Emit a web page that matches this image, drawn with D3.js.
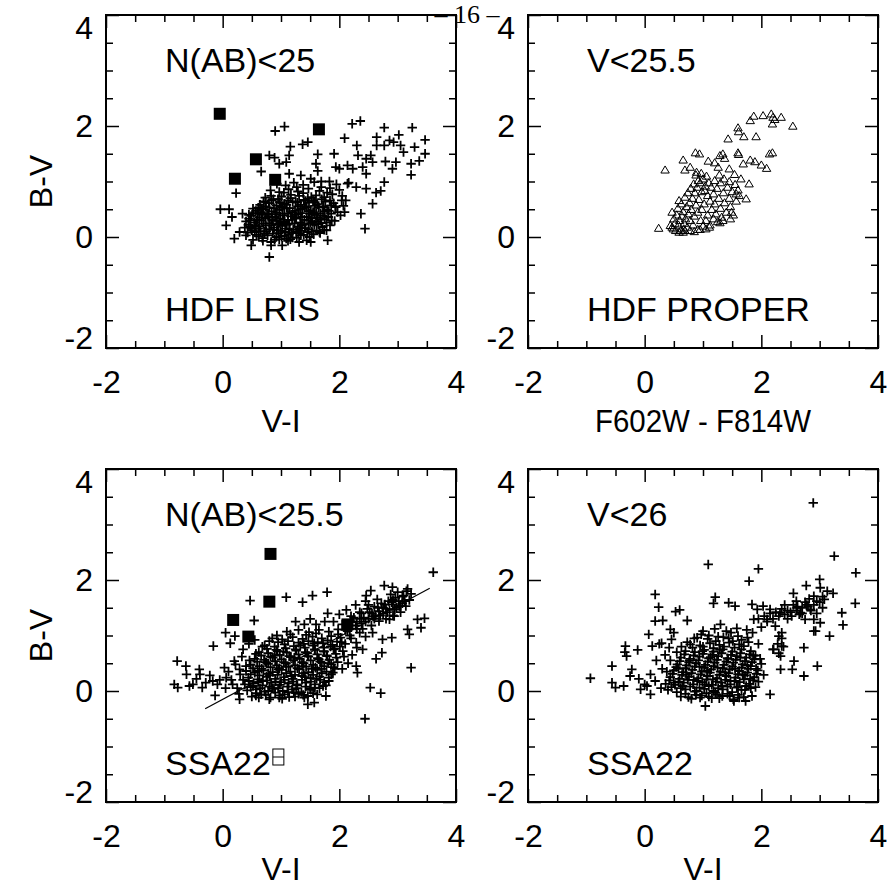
<!DOCTYPE html>
<html>
<head>
<meta charset="utf-8">
<script src="https://cdn.jsdelivr.net/npm/d3@7"></script>
<style>
  body { margin: 0; background: #fff; }
  svg { display: block; }
</style>
</head>
<body>
<div id="chart"></div>
<script>
/*------------------ Données ------------------*/

var majorTicks = [-2, 0, 2, 4];
var minorTicks = [-1.5, -1, -0.5, 0.5, 1, 1.5, 2.5, 3, 3.5];

// HDF LRIS, N(AB)<25 : croix + carrés pleins
var lrisCrosses = [
  [0.90,1.91],[1.06,1.99],[2.22,2.04],[2.36,2.09],[2.77,1.97],[3.25,1.97],[3.47,1.75],[3.47,1.50],
  [3.02,1.84],[3.05,1.65],[3.29,1.62],[3.10,1.53],[2.93,1.71],[2.64,1.80],[2.64,1.65],[2.86,1.74],
  [2.77,1.65],[3.37,1.37],[3.23,1.32],[3.23,1.12],[2.97,1.35],[2.91,1.23],[2.79,1.36],[2.09,1.78],
  [2.30,1.65],[2.32,1.47],[2.46,1.41],[2.54,1.47],[2.57,1.35],[1.37,1.67],[1.46,1.71],[1.16,1.63],
  [1.14,1.47],[1.09,1.35],[0.80,1.47],[0.89,1.43],[1.63,1.49],[1.91,1.50],[1.60,1.32],[1.63,1.19],
  [0.97,1.32],[0.66,1.18],[1.14,1.14],[1.34,1.11],[1.51,1.05],[1.69,1.00],[1.83,1.00],[1.94,1.26],
  [2.00,1.23],[2.14,1.29],[2.23,1.23],[2.40,1.26],[2.46,1.14],[2.14,0.96],[2.29,0.90],[2.46,0.87],
  [2.77,0.99],[2.71,0.83],[2.63,0.80],[2.57,0.60],[2.37,0.42],[2.44,0.15],[2.11,0.66],[2.09,0.45],
  [1.94,0.54],[0.23,0.79],[-0.04,0.50],[0.11,0.50],[0.06,0.21],[0.16,0.36],[0.20,-0.03],[0.34,0.42],
  [0.49,-0.15],[0.80,-0.36],[0.83,-0.15],[1.02,-0.15],[1.09,-0.03],[1.31,-0.09],[1.51,-0.09],[1.80,-0.06],
  [1.66,0.09],[0.29,0.09],[0.40,0.03],[0.49,0.15],[0.57,0.21],
  [0.52,-0.05],[0.68,-0.02],[0.83,-0.09],[0.97,-0.04],[1.12,-0.07],[1.27,-0.01],[1.44,-0.06],
  [0.43,0.08],[0.58,0.04],[0.71,0.10],[0.86,0.06],[0.99,0.11],[1.13,0.05],[1.26,0.09],[1.39,0.04],
  [1.53,0.10],[1.67,0.07],[0.47,0.18],[0.61,0.15],[0.74,0.21],[0.88,0.17],[1.02,0.20],[1.15,0.14],
  [1.29,0.19],[1.42,0.16],[1.57,0.22],[1.71,0.18],[1.84,0.21],[0.40,0.28],[0.54,0.26],[0.67,0.30],
  [0.80,0.25],[0.93,0.29],[1.06,0.27],[1.19,0.31],[1.33,0.26],[1.47,0.30],[1.60,0.28],[1.75,0.32],
  [1.92,0.29],[0.49,0.38],[0.63,0.35],[0.76,0.40],[0.90,0.36],[1.03,0.39],[1.17,0.37],[1.30,0.41],
  [1.44,0.36],[1.58,0.40],[1.72,0.38],[1.86,0.42],[2.02,0.39],[0.57,0.47],[0.70,0.50],[0.84,0.46],
  [0.97,0.49],[1.10,0.52],[1.24,0.47],[1.37,0.51],[1.51,0.48],[1.65,0.53],[1.79,0.49],[1.93,0.55],
  [0.64,0.58],[0.79,0.61],[0.92,0.57],[1.06,0.60],[1.20,0.63],[1.34,0.58],[1.48,0.62],[1.62,0.59],
  [1.76,0.64],[1.90,0.61],[2.04,0.66],[0.73,0.71],[0.87,0.68],[1.01,0.73],[1.16,0.70],[1.31,0.74],
  [1.46,0.69],[1.60,0.75],[1.74,0.72],[1.88,0.77],[2.05,0.74],[0.82,0.84],[0.97,0.81],[1.13,0.86],
  [1.29,0.82],[1.47,0.87],[1.66,0.83],[1.84,0.88],[2.00,0.85],[0.93,0.96],[1.08,0.93],[1.22,0.98],
  [1.38,0.94],[1.57,0.99],[1.95,0.95],[2.16,0.98],[0.75,0.10],[0.95,0.22],[1.08,0.15],[1.25,0.33],
  [1.40,0.23],[0.85,0.32],[1.12,0.42],[1.33,0.50],[0.68,0.41],[1.55,0.45],[1.00,0.55],[0.80,0.53],
  [1.42,0.65],[1.68,0.42],[0.58,0.30],
  [0.62,0.01],[0.77,0.03],[0.92,0.00],[1.06,0.02],[1.20,-0.01],[1.34,0.03],[1.49,0.00],
  [0.50,0.12],[0.65,0.10],[0.80,0.14],[0.93,0.12],[1.07,0.09],[1.21,0.13],[1.34,0.11],[1.47,0.14],
  [1.61,0.12],[0.44,0.22],[0.56,0.20],[0.70,0.24],[0.83,0.21],[0.97,0.25],[1.10,0.22],[1.23,0.24],
  [1.36,0.21],[1.50,0.25],[1.64,0.23],[1.78,0.26],[0.45,0.33],[0.60,0.31],[0.73,0.34],[0.86,0.30],
  [0.99,0.33],[1.12,0.31],[1.26,0.35],[1.40,0.31],[1.53,0.34],[1.67,0.32],[1.81,0.36],[0.53,0.43],
  [0.66,0.45],[0.79,0.42],[0.93,0.44],[1.06,0.42],[1.20,0.45],[1.34,0.43],[1.47,0.46],[1.61,0.43],
  [1.75,0.46],[0.61,0.53],[0.74,0.55],[0.88,0.52],[1.02,0.54],[1.15,0.52],[1.29,0.55],[1.44,0.53],
  [1.58,0.56],[1.72,0.54],[1.86,0.57],[0.70,0.64],[0.84,0.66],[0.98,0.63],[1.12,0.66],[1.25,0.64],
  [1.39,0.67],[1.55,0.65],[1.70,0.68],[1.84,0.66],
  [0.55,0.09],[0.63,0.19],[0.72,0.06],[0.78,0.36],[0.87,0.13],[0.91,0.41],[0.96,0.07],[1.04,0.31],
  [1.09,0.58],[1.14,0.24],[1.18,0.08],[1.23,0.40],[1.28,0.62],[1.32,0.16],[1.36,0.36],[1.41,0.55],
  [1.45,0.09],[1.49,0.42],[1.54,0.27],[1.58,0.63],[1.63,0.35],[1.69,0.25],[1.73,0.55],[1.78,0.12],
  [1.82,0.47],[1.87,0.30],[1.97,0.45],[2.07,0.56],[0.66,0.52],[0.74,0.63],[0.83,0.74],[0.95,0.68],
  [1.05,0.80],[1.17,0.76],[1.27,0.90],[1.38,0.79],[1.52,0.72],[1.69,0.90],[1.79,0.80],[0.48,0.30],
  [0.52,0.51],[0.60,0.42],[0.69,-0.07],[0.89,-0.05],[1.01,0.01],[1.16,-0.04],[1.30,0.07],[1.56,0.05],
  [1.74,0.13],[0.38,0.17],[0.45,0.40]
];
var lrisSquares = [[-0.05,2.22],[1.65,1.94],[0.57,1.40],[0.21,1.05],[0.90,1.03]];

// HDF PROPER, V<25.5 : triangles ouverts
var properTriangles = [
  [0.24,0.16],[0.35,1.21],[0.66,1.39],[0.69,1.21],[0.87,1.52],[0.94,1.50],[1.09,1.37],[0.78,1.26],
  [1.43,1.77],[1.60,1.97],[1.61,1.90],[1.70,1.81],[1.91,1.81],[1.81,2.10],[1.87,2.18],[2.03,2.19],
  [2.17,2.22],[2.20,2.16],[2.19,2.04],[2.23,2.12],[2.34,2.16],[2.54,2.00],[1.34,1.50],[1.37,1.42],
  [1.60,1.52],[1.61,1.49],[1.69,1.32],[1.81,1.39],[1.89,1.36],[2.00,1.30],[2.09,1.24],[2.14,1.50],
  [2.19,1.52],[1.79,0.96],[1.74,0.69],[1.57,0.78],[1.54,1.13],[1.45,1.23],[1.20,1.34],[1.29,1.47],
  [1.26,1.26],[0.89,1.17],[0.59,0.66],[0.47,0.45],[0.44,0.21],[0.49,0.15],[0.66,0.09],[0.69,0.12],
  [0.91,0.14],[1.11,0.18],[1.29,0.26],[1.34,0.30],[1.47,0.33],[1.49,0.45],
  [0.47,0.18],[0.52,0.25],[0.50,0.33],[0.55,0.40],[0.58,0.22],[0.60,0.30],[0.62,0.12],[0.64,0.38],
  [0.66,0.46],[0.68,0.25],[0.70,0.33],[0.72,0.55],[0.73,0.18],[0.75,0.42],[0.77,0.62],[0.78,0.30],
  [0.80,0.50],[0.82,0.70],[0.83,0.22],[0.85,0.38],[0.86,0.80],[0.88,0.58],[0.90,0.90],[0.91,0.45],
  [0.93,0.68],[0.95,0.98],[0.96,0.30],[0.98,0.82],[1.00,1.05],[1.02,0.60],[1.04,0.92],[1.06,1.10],
  [1.08,0.75],[1.10,0.98],[0.57,0.52],[0.63,0.60],[0.69,0.72],[0.74,0.80],[0.79,0.88],[0.84,0.96],
  [0.92,1.02],[0.88,1.12],[0.97,1.15],[1.03,0.84],[0.67,0.15],[0.53,0.12],[0.59,0.09],
  [1.00,0.20],[1.05,0.30],[1.08,0.40],[1.12,0.22],[1.15,0.50],[1.18,0.33],[1.20,0.60],[1.22,0.42],
  [1.25,0.28],[1.27,0.70],[1.30,0.52],[1.32,0.36],[1.35,0.80],[1.37,0.62],[1.40,0.45],[1.42,0.90],
  [1.45,0.70],[1.47,0.55],[1.50,0.82],[1.52,0.40],[1.55,0.95],[1.57,0.65],[1.60,0.85],[1.62,0.75],
  [1.12,0.65],[1.18,0.78],[1.24,0.88],[1.30,0.98],[1.36,1.05],[1.28,1.12],[1.20,1.02],[1.14,0.90],
  [1.45,1.00],[1.65,1.05],[0.98,0.50],[1.05,0.15],[0.95,0.14],[0.85,0.10],[0.78,0.12]
];

// SSA22, N(AB)<25.5 : croix + carrés pleins + droite
var ssaNCrosses = [
  [3.61,2.14],[2.77,1.90],[2.91,1.87],[3.17,1.84],[3.23,1.75],[2.54,1.81],[2.46,1.72],[0.47,1.63],
  [1.09,1.69],[1.37,1.60],[1.54,1.72],[1.79,1.78],[0.54,1.27],[0.05,1.05],[0.21,0.99],[0.13,0.86],
  [-0.16,0.81],[-0.78,0.54],[-0.63,0.45],[-0.40,0.39],[-0.39,0.30],[-0.62,0.30],[-0.83,0.12],[-0.77,0.06],
  [-0.57,0.09],[-0.51,0.12],[-0.29,0.15],[-0.17,0.18],[-0.09,0.12],[-0.13,-0.08],[0.29,-0.15],[0.57,-0.08],
  [0.80,-0.15],[0.97,-0.12],[1.46,-0.24],[1.57,-0.21],[1.77,-0.09],[2.53,0.06],[2.71,-0.04],[2.44,-0.50],
  [3.23,0.42],[3.40,1.14],[3.46,1.31],[3.34,1.29],[3.17,1.11],[3.20,1.02],[2.74,0.93],[2.90,0.96],
  [2.73,0.69],[2.63,0.58],[2.31,0.33],[2.29,0.45],[2.40,0.75],[2.29,0.87],[2.57,1.05],[3.03,1.53],
  [3.14,1.53],[2.94,1.35],[2.86,1.29],[0.29,0.39],[0.06,0.24],[0.17,0.12],[0.03,0.42],[0.20,0.54],
  [0.50,-0.10],[0.66,-0.06],[0.82,-0.12],[0.98,-0.08],[1.14,-0.11],[1.30,-0.05],[1.46,-0.09],
  [0.42,0.01],[0.57,0.03],[0.72,-0.01],[0.88,0.04],[1.03,0.00],[1.19,0.03],[1.35,-0.02],[1.51,0.02],
  [1.66,0.05],[0.38,0.12],[0.53,0.14],[0.68,0.10],[0.83,0.15],[0.98,0.11],[1.13,0.14],[1.28,0.10],
  [1.43,0.15],[1.58,0.12],[1.74,0.16],[0.44,0.24],[0.60,0.21],[0.75,0.26],[0.90,0.22],[1.05,0.25],
  [1.20,0.22],[1.36,0.27],[1.51,0.23],[1.66,0.26],[1.82,0.24],[0.40,0.36],[0.55,0.33],[0.70,0.37],
  [0.86,0.34],[1.01,0.38],[1.16,0.35],[1.31,0.39],[1.47,0.34],[1.62,0.38],[1.78,0.35],[1.92,0.40],
  [0.48,0.47],[0.63,0.45],[0.78,0.49],[0.93,0.46],[1.08,0.50],[1.24,0.46],[1.39,0.50],[1.55,0.47],
  [1.70,0.51],[1.86,0.48],[0.55,0.58],[0.71,0.56],[0.86,0.60],[1.01,0.57],[1.17,0.61],[1.32,0.58],
  [1.47,0.62],[1.63,0.59],[1.79,0.63],[1.95,0.60],[0.62,0.70],[0.78,0.68],[0.94,0.72],[1.10,0.69],
  [1.26,0.73],[1.42,0.70],[1.58,0.74],[1.74,0.71],[1.90,0.75],[2.06,0.72],[0.72,0.82],[0.89,0.80],
  [1.06,0.84],[1.22,0.81],[1.39,0.85],[1.55,0.82],[1.72,0.86],[1.88,0.83],[2.04,0.88],[0.85,0.95],
  [1.02,0.93],[1.20,0.97],[1.37,0.94],[1.54,0.98],[1.70,0.95],[1.86,0.99],[2.02,0.96],[2.18,1.00],
  [1.10,1.07],[1.30,1.10],[1.48,1.06],[1.65,1.10],[1.82,1.07],[1.98,1.11],[2.14,1.08],[2.30,1.12],
  [2.05,1.20],[2.22,1.24],[2.38,1.22],[2.50,1.30],[2.62,1.36],[2.75,1.40],[2.86,1.46],[2.98,1.50],
  [3.08,1.58],[3.20,1.64],[2.20,1.35],[2.35,1.42],[2.48,1.48],[2.60,1.52],[2.72,1.58],[2.84,1.62],
  [2.96,1.68],[3.10,1.72],[2.40,1.12],[2.55,1.18],[2.68,1.26],[2.80,1.30],[2.92,1.36],[3.05,1.42],
  [1.90,1.25],[2.00,1.38],[2.12,1.46],[2.28,1.55],[2.45,1.62],[3.15,1.80],[3.00,1.78],[2.88,1.74],
  [1.75,1.25],[1.60,1.20],[1.50,1.30],[1.40,1.20],[1.25,1.25],[1.80,1.40],
  [2.10,0.85],[2.22,0.65],[2.15,0.50],[2.30,0.78],[2.05,0.40],[2.20,0.95],[2.45,0.98],[2.35,1.05],
  [0.25,0.05],[0.15,0.20],[0.30,0.30],[0.10,0.35],[0.22,0.48],[0.33,0.62],[0.28,-0.05],[0.05,0.05],
  [-0.05,0.20],[-0.22,0.28],[-0.35,0.06],[-0.45,0.22],[0.35,0.75],[0.45,0.85],[0.55,0.92],
  [0.58,-0.04],[0.74,-0.07],[0.90,-0.03],[1.06,-0.06],[1.22,-0.03],[1.38,-0.07],[1.55,-0.04],
  [0.48,0.07],[0.64,0.05],[0.80,0.08],[0.95,0.05],[1.11,0.08],[1.26,0.05],[1.42,0.08],[1.58,0.06],
  [1.72,0.09],[0.45,0.18],[0.61,0.16],[0.76,0.19],[0.91,0.17],[1.06,0.20],[1.21,0.17],[1.36,0.20],
  [1.51,0.17],[1.67,0.20],[1.82,0.18],[0.48,0.30],[0.63,0.28],[0.78,0.31],[0.94,0.29],[1.09,0.32],
  [1.24,0.29],[1.39,0.32],[1.55,0.29],[1.70,0.32],[1.86,0.30],[0.52,0.41],[0.67,0.40],[0.82,0.43],
  [0.97,0.41],[1.13,0.44],[1.28,0.41],[1.43,0.44],[1.59,0.42],[1.74,0.45],[1.90,0.43],[0.59,0.53],
  [0.75,0.51],[0.90,0.54],[1.05,0.52],[1.21,0.55],[1.36,0.52],[1.51,0.55],[1.67,0.53],[1.83,0.56],
  [0.66,0.64],[0.82,0.62],[0.98,0.65],[1.14,0.63],[1.30,0.66],[1.46,0.63],[1.62,0.66],[1.78,0.64],
  [1.94,0.67],[0.76,0.76],[0.92,0.74],[1.08,0.77],[1.25,0.75],[1.41,0.78],[1.58,0.75],[1.74,0.78],
  [1.92,0.76],[0.95,0.88],[1.12,0.90],[1.30,0.87],[1.47,0.90],[1.63,0.88],[1.80,0.91],[1.96,0.89],
  [2.15,1.18],[2.30,1.25],[2.42,1.32],[2.56,1.40],[2.68,1.44],[2.80,1.48],[2.92,1.56],[3.02,1.62],
  [2.60,1.30],[2.75,1.50],[2.90,1.60],[2.50,1.55],[2.65,1.65],[3.08,1.70],[2.38,1.40],[2.25,1.32],
  [1.98,1.02],[2.10,1.10],
  [0.52,0.09],[0.60,0.36],[0.69,0.18],[0.73,0.52],[0.81,0.28],[0.85,0.05],[0.89,0.64],[0.96,0.39],
  [1.00,0.16],[1.04,0.71],[1.09,0.44],[1.12,-0.02],[1.18,0.27],[1.23,0.60],[1.27,0.12],[1.33,0.82],
  [1.37,0.45],[1.41,0.25],[1.45,0.68],[1.50,0.05],[1.53,0.40],[1.57,0.86],[1.61,0.22],[1.65,0.57],
  [1.69,0.40],[1.73,0.72],[1.77,0.10],[1.81,0.50],[1.85,0.80],[1.89,0.33],[1.97,0.52],[2.01,0.80],
  [2.08,0.62],[0.46,0.55],[0.57,0.67],[0.68,0.80],[0.80,0.90],[0.93,1.00],[1.16,1.02],[1.43,1.01],
  [1.60,1.04],[0.62,-0.12],[0.78,0.00],[1.02,-0.14],[1.24,-0.10],[1.40,-0.12],[1.62,-0.06],[0.35,0.20],
  [0.40,0.45],[2.28,1.18],[2.45,1.25],[2.58,1.34],[2.70,1.36],[2.82,1.42],[2.95,1.47],[3.05,1.53],
  [2.35,1.30],[2.52,1.42],[2.66,1.50],[2.78,1.56],[2.92,1.64],[3.12,1.62]
];
var ssaNSquares = [[0.82,2.47],[0.80,1.61],[0.18,1.28],[0.44,0.98],[2.14,1.20]];
var ssaNFit = [[-0.30,-0.32],[3.55,1.85]];

// SSA22, V<26 : croix
var ssaVCrosses = [
  [2.89,3.39],[3.25,2.43],[3.62,2.13],[3.61,1.58],[1.09,2.28],[1.95,2.20],[1.79,1.98],[2.77,1.90],
  [3.00,2.01],[3.01,1.86],[3.13,1.80],[3.23,1.76],[2.90,1.71],[2.55,1.76],[3.38,1.41],[3.40,1.19],
  [3.17,0.99],[2.93,1.08],[2.73,0.78],[2.96,0.45],[2.73,0.27],[2.15,-0.06],[0.18,1.74],[0.24,1.51],
  [0.18,1.26],[0.31,1.27],[0.53,1.43],[0.60,1.46],[0.73,1.27],[1.21,1.69],[1.18,1.58],[1.44,1.59],
  [1.55,1.53],[0.07,1.02],[0.13,0.81],[0.29,0.86],[-0.12,0.74],[-0.33,0.81],[-0.34,0.70],[-0.31,0.63],
  [-0.93,0.23],[-0.56,0.45],[-0.56,0.15],[-0.50,0.06],[-0.36,0.09],[-0.25,0.27],[-0.22,0.39],[-0.07,0.03],
  [0.10,-0.06],[0.04,0.09],[0.46,0.93],[0.44,1.11],[0.50,1.05],[1.04,-0.27],[1.53,-0.18],[1.73,-0.18],
  [1.84,-0.09],[2.33,0.39],[2.53,0.39],[2.56,0.54],[2.33,0.63],[2.21,0.75],[2.35,0.81],[2.30,0.99],
  [2.35,1.05],[2.24,1.17],[2.10,1.29],[1.87,1.29],[1.93,1.47],[1.84,1.56],[2.03,1.53],[2.15,1.47],
  [2.32,1.41],[2.61,1.50],[2.67,1.41],[2.84,1.47],[2.75,1.29],[2.90,1.29],[3.01,1.23],[2.90,1.08],
  [0.62,-0.10],[0.80,-0.14],[0.98,-0.08],[1.15,-0.13],[1.33,-0.09],[1.52,-0.15],[1.70,-0.11],
  [0.40,0.02],[0.55,-0.02],[0.70,0.03],[0.86,-0.01],[1.02,0.04],[1.18,0.00],[1.34,0.03],[1.50,-0.02],
  [1.66,0.02],[1.82,0.05],[0.36,0.13],[0.52,0.11],[0.67,0.15],[0.83,0.12],[0.99,0.16],[1.15,0.11],
  [1.31,0.15],[1.47,0.12],[1.63,0.16],[1.79,0.13],[1.95,0.17],[0.44,0.25],[0.60,0.22],[0.76,0.26],
  [0.92,0.23],[1.08,0.27],[1.24,0.23],[1.40,0.27],[1.56,0.24],[1.72,0.28],[1.88,0.25],[2.04,0.29],
  [0.50,0.37],[0.66,0.34],[0.82,0.38],[0.98,0.35],[1.14,0.39],[1.30,0.35],[1.46,0.39],[1.62,0.36],
  [1.78,0.40],[1.94,0.37],[0.56,0.48],[0.72,0.46],[0.88,0.50],[1.04,0.47],[1.20,0.51],[1.36,0.47],
  [1.52,0.51],[1.68,0.48],[1.84,0.52],[2.00,0.49],[0.62,0.60],[0.78,0.58],[0.94,0.62],[1.10,0.59],
  [1.26,0.63],[1.42,0.59],[1.58,0.63],[1.74,0.60],[1.90,0.64],[0.70,0.72],[0.86,0.70],[1.02,0.74],
  [1.18,0.71],[1.34,0.75],[1.50,0.71],[1.66,0.75],[1.82,0.72],[0.78,0.84],[0.95,0.82],[1.12,0.86],
  [1.28,0.83],[1.45,0.87],[1.62,0.84],[1.78,0.88],[1.95,0.85],[0.90,0.96],[1.08,0.94],[1.26,0.98],
  [1.44,0.95],[1.60,0.99],[1.76,0.96],[1.00,1.08],[1.20,1.12],[1.40,1.08],[1.58,1.13],[1.75,1.10],
  [1.30,1.20],[1.85,1.05],[2.00,1.15],[2.10,1.25],[2.20,1.30],[2.30,1.35],[2.40,1.38],[2.50,1.42],
  [2.60,1.45],[2.70,1.50],[2.80,1.52],[2.90,1.55],[3.00,1.60],[3.08,1.65],[2.45,1.30],[2.65,1.38],
  [2.85,1.45],[2.95,1.40],[3.05,1.50],[2.75,1.60],[2.55,1.55],[1.95,1.30],[2.15,1.40],[2.35,1.48],
  [2.20,0.75],[2.28,0.85],[2.35,0.95],[2.38,0.80],[2.30,0.68],
  [0.28,0.05],[0.18,0.18],[0.30,0.40],[0.20,0.55],[0.10,0.30],[0.00,0.12],[-0.10,0.22],[0.35,0.65],
  [0.42,0.78],[0.25,0.85],
  [0.70,-0.05],[0.88,-0.07],[1.06,-0.04],[1.24,-0.06],[1.42,-0.05],[1.60,-0.07],
  [0.46,0.07],[0.62,0.05],[0.78,0.08],[0.94,0.06],[1.10,0.09],[1.26,0.05],[1.42,0.08],[1.58,0.06],
  [1.74,0.09],[1.90,0.07],[0.42,0.19],[0.58,0.17],[0.74,0.20],[0.90,0.18],[1.06,0.21],[1.22,0.17],
  [1.38,0.20],[1.54,0.18],[1.70,0.21],[1.86,0.19],[0.48,0.31],[0.64,0.29],[0.80,0.32],[0.96,0.30],
  [1.12,0.33],[1.28,0.29],[1.44,0.32],[1.60,0.30],[1.76,0.33],[1.92,0.31],[0.54,0.43],[0.70,0.41],
  [0.86,0.44],[1.02,0.42],[1.18,0.45],[1.34,0.41],[1.50,0.44],[1.66,0.42],[1.82,0.45],[0.60,0.54],
  [0.76,0.52],[0.92,0.55],[1.08,0.53],[1.24,0.56],[1.40,0.53],[1.56,0.56],[1.72,0.54],[1.88,0.57],
  [0.68,0.66],[0.84,0.64],[1.00,0.67],[1.16,0.65],[1.32,0.68],[1.48,0.65],[1.64,0.68],[1.80,0.66],
  [0.82,0.78],[1.00,0.80],[1.18,0.77],[1.36,0.80],[1.54,0.78],[1.70,0.81],
  [2.05,1.35],[2.25,1.42],[2.45,1.45],[2.62,1.52],[2.78,1.55],[2.95,1.62],[2.40,1.55],[2.60,1.62],
  [2.82,1.66],[3.05,1.70],[2.70,1.40],[2.52,1.35],
  [0.50,0.15],[0.58,0.40],[0.65,0.09],[0.71,0.30],[0.77,0.55],[0.84,0.20],[0.89,0.00],[0.94,0.44],
  [0.99,0.72],[1.03,0.12],[1.07,0.36],[1.13,0.61],[1.17,0.21],[1.21,-0.03],[1.25,0.42],[1.29,0.74],
  [1.33,0.09],[1.38,0.33],[1.43,0.58],[1.47,0.18],[1.51,0.90],[1.55,0.40],[1.60,0.08],[1.64,0.60],
  [1.68,0.30],[1.72,0.02],[1.76,0.46],[1.81,0.22],[1.86,0.64],[1.91,0.40],[1.98,0.58],[0.55,0.70],
  [0.63,0.80],[0.73,0.88],[0.85,0.95],[0.97,1.02],[1.10,1.00],[1.22,0.90],[1.35,0.97],[1.48,1.05],
  [1.66,0.92],[0.75,-0.11],[0.95,-0.12],[1.10,-0.10],[1.28,-0.13],[1.46,-0.09],[1.62,-0.12],[0.38,0.35],
  [0.44,0.55]
];

/*------------------ Mise en page ------------------*/

var fontSans = "'Liberation Sans', Arial, Helvetica, sans-serif";
var panelWidth = 350;
var colLeft = [106, 528];
var rowBox = [[15, 348], [469, 802]];

var svg = d3.select("#chart").append("svg")
    .attr("width", 891)
    .attr("height", 888);

svg.append("rect").attr("width", 891).attr("height", 888).attr("fill", "#fff");

// numéro de page en haut
svg.append("text")
    .attr("x", 467)
    .attr("y", 23)
    .attr("text-anchor", "middle")
    .style("font-family", "'Liberation Serif', 'DejaVu Serif', serif")
    .style("font-size", "26px")
    .text("– 16 –");

var crossPath = "M-4.7,0H4.7M0,-4.7V4.7";
var trianglePath = "M-4.2,3.2L4.2,3.2L0,-3.9Z";

function drawPanel(p) {
    var left = colLeft[p.col], top = rowBox[p.row][0], bottom = rowBox[p.row][1];
    var x = d3.scaleLinear().domain([-2, 4]).range([left, left + panelWidth]);
    var y = d3.scaleLinear().domain([-2, 4]).range([bottom, top]);
    var g = svg.append("g");

    // axes : graduations majeures et mineures sur les 4 côtés
    function styleAxis(sel) {
        sel.select(".domain").remove();
        sel.attr("font-family", fontSans).attr("font-size", 32);
        sel.selectAll("line").attr("stroke-width", 1.5);
    }
    g.append("g").attr("transform", "translate(0," + bottom + ")")
        .call(d3.axisBottom(x).tickValues(majorTicks).tickSizeInner(-13).tickSizeOuter(0)
            .tickPadding(22).tickFormat(d => String(d)))
        .call(styleAxis);
    g.append("g").attr("transform", "translate(0," + bottom + ")")
        .call(d3.axisBottom(x).tickValues(minorTicks).tickSizeInner(-7).tickSizeOuter(0).tickFormat(""))
        .call(styleAxis);
    g.append("g").attr("transform", "translate(0," + top + ")")
        .call(d3.axisTop(x).tickValues(majorTicks).tickSizeInner(-13).tickSizeOuter(0).tickFormat(""))
        .call(styleAxis);
    g.append("g").attr("transform", "translate(0," + top + ")")
        .call(d3.axisTop(x).tickValues(minorTicks).tickSizeInner(-7).tickSizeOuter(0).tickFormat(""))
        .call(styleAxis);
    var yAxis = g.append("g").attr("transform", "translate(" + left + ",0)")
        .call(d3.axisLeft(y).tickValues(majorTicks).tickSizeInner(-13).tickSizeOuter(0)
            .tickPadding(13).tickFormat(d => String(d)))
        .call(styleAxis);
    // les étiquettes extrêmes restent à l'intérieur du cadre
    yAxis.selectAll("text").attr("dy", d => d === 4 ? "0.72em" : (d === -2 ? "0em" : "0.32em"));
    g.append("g").attr("transform", "translate(" + left + ",0)")
        .call(d3.axisLeft(y).tickValues(minorTicks).tickSizeInner(-7).tickSizeOuter(0).tickFormat(""))
        .call(styleAxis);
    g.append("g").attr("transform", "translate(" + (left + panelWidth) + ",0)")
        .call(d3.axisRight(y).tickValues(majorTicks).tickSizeInner(-13).tickSizeOuter(0).tickFormat(""))
        .call(styleAxis);
    g.append("g").attr("transform", "translate(" + (left + panelWidth) + ",0)")
        .call(d3.axisRight(y).tickValues(minorTicks).tickSizeInner(-7).tickSizeOuter(0).tickFormat(""))
        .call(styleAxis);

    // cadre
    g.append("rect")
        .attr("x", left).attr("y", top)
        .attr("width", panelWidth).attr("height", bottom - top)
        .attr("fill", "none").attr("stroke", "#000").attr("stroke-width", 2);

    // titres d'axes (la ligne du bas reste dans la page)
    var xt = g.append("text")
        .attr("x", left + panelWidth / 2)
        .attr("y", Math.min(bottom + 84, 880))
        .attr("text-anchor", "middle")
        .style("font-family", fontSans).style("font-size", "32px")
        .text(p.xTitle);
    if (p.xTitleWidth) {
        xt.attr("textLength", p.xTitleWidth).attr("lengthAdjust", "spacingAndGlyphs");
    }
    if (p.col === 0) {
        g.append("text")
            .attr("transform", "translate(52," + ((top + bottom) / 2) + ") rotate(-90)")
            .attr("text-anchor", "middle")
            .style("font-family", fontSans).style("font-size", "32px")
            .text("B-V");
    }

    // données
    if (p.fit) {
        g.append("path")
            .datum(p.fit)
            .attr("d", d3.line().x(d => x(d[0])).y(d => y(d[1])))
            .attr("fill", "none").attr("stroke", "#000").attr("stroke-width", 1.2);
    }
    if (p.crosses) {
        g.append("g").selectAll("path")
            .data(p.crosses)
            .enter()
            .append("path")
            .attr("transform", d => "translate(" + x(d[0]) + "," + y(d[1]) + ")")
            .attr("d", crossPath)
            .attr("fill", "none").attr("stroke", "#000").attr("stroke-width", 1.8);
    }
    if (p.triangles) {
        g.append("g").selectAll("path")
            .data(p.triangles)
            .enter()
            .append("path")
            .attr("transform", d => "translate(" + x(d[0]) + "," + y(d[1]) + ")")
            .attr("d", trianglePath)
            .attr("fill", "none").attr("stroke", "#000").attr("stroke-width", 1);
    }
    if (p.squares) {
        g.append("g").selectAll("rect")
            .data(p.squares)
            .enter()
            .append("rect")
            .attr("x", d => x(d[0]) - 6)
            .attr("y", d => y(d[1]) - 6)
            .attr("width", 12).attr("height", 12)
            .attr("fill", "#000");
    }

    // étiquettes dans le panneau
    g.append("text")
        .attr("x", left + 59).attr("y", top + 57)
        .style("font-family", fontSans).style("font-size", "34px")
        .text(p.labelTop);
    var lb = g.append("text")
        .attr("x", left + 59).attr("y", bottom - 27)
        .style("font-family", fontSans).style("font-size", "34px")
        .text(p.labelBottom);

    if (p.box) {
        // petite boîte (glyphe manquant) après SSA22
        var bx = left + 59 + lb.node().getComputedTextLength() + 2;
        var by = bottom - 27;
        g.append("rect")
            .attr("x", bx).attr("y", by - 26)
            .attr("width", 11).attr("height", 16)
            .attr("fill", "none").attr("stroke", "#000").attr("stroke-width", 1);
        g.append("line")
            .attr("x1", bx).attr("x2", bx + 11)
            .attr("y1", by - 18).attr("y2", by - 18)
            .attr("stroke", "#000").attr("stroke-width", 1);
    }
}

drawPanel({col: 0, row: 0, crosses: lrisCrosses, squares: lrisSquares,
           labelTop: "N(AB)<25", labelBottom: "HDF LRIS", xTitle: "V-I"});
drawPanel({col: 1, row: 0, triangles: properTriangles,
           labelTop: "V<25.5", labelBottom: "HDF PROPER", xTitle: "F602W - F814W", xTitleWidth: 216});
drawPanel({col: 0, row: 1, crosses: ssaNCrosses, squares: ssaNSquares, fit: ssaNFit,
           labelTop: "N(AB)<25.5", labelBottom: "SSA22", xTitle: "V-I", box: true});
drawPanel({col: 1, row: 1, crosses: ssaVCrosses,
           labelTop: "V<26", labelBottom: "SSA22", xTitle: "V-I"});
</script>
</body>
</html>
